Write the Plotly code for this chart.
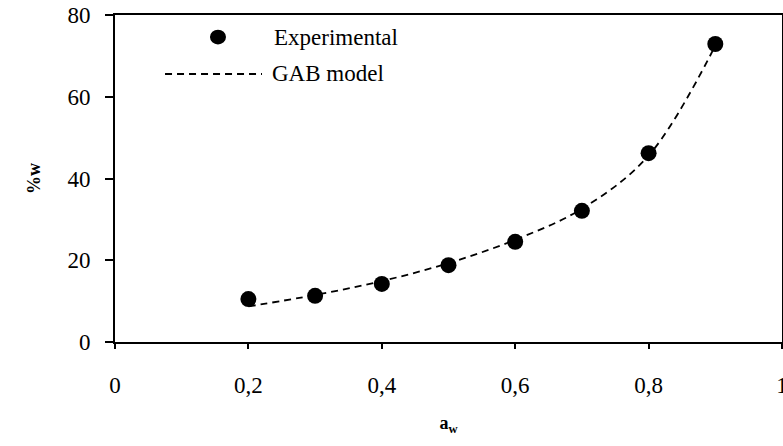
import plotly.graph_objects as go

# Water activity and moisture content
aw = [0.2, 0.3, 0.4, 0.5, 0.6, 0.7, 0.8, 0.9]
w_experimental = [10.5, 11.3, 14.2, 18.8, 24.5, 32.1, 46.2, 72.9]
w_gab = [8.7, 11.5, 14.9, 19.3, 25.0, 32.6, 45.6, 72.5]

x_ticks = [0, 0.2, 0.4, 0.6, 0.8, 1.0]
x_ticktext = ["0", "0,2", "0,4", "0,6", "0,8", "1"]
y_ticks = [0, 20, 40, 60, 80]
y_ticktext = ["0", "20", "40", "60", "80"]

FONT = "Liberation Serif"

fig = go.Figure()

fig.add_trace(go.Scatter(
    x=aw, y=w_gab, mode="lines", line_shape="spline",
    line=dict(color="black", width=1.8, dash="7px,5px"),
    showlegend=False, hoverinfo="skip",
))
fig.add_trace(go.Scatter(
    x=aw, y=w_experimental, mode="markers",
    marker=dict(color="black", size=16, symbol="circle"),
    showlegend=False,
))

# Legend drawn in paper coordinates
fig.add_shape(type="circle", xref="paper", yref="paper",
              x0=0.1424, x1=0.1664, y0=0.910, y1=0.955,
              fillcolor="black", line=dict(color="black", width=0))
fig.add_shape(type="line", xref="paper", yref="paper",
              x0=0.075, x1=0.2204, y0=0.8196, y1=0.8196,
              line=dict(color="black", width=1.8, dash="7px,5px"))
fig.add_annotation(xref="paper", yref="paper", x=0.2354, y=0.932,
                   xanchor="left", yanchor="middle", showarrow=False,
                   text="Experimental",
                   font=dict(family=FONT, size=23, color="black"))
fig.add_annotation(xref="paper", yref="paper", x=0.2324, y=0.822,
                   xanchor="left", yanchor="middle", showarrow=False,
                   text="GAB model",
                   font=dict(family=FONT, size=23, color="black"))

axis_common = dict(
    showline=True, linecolor="black", linewidth=2, mirror=True,
    showgrid=False, zeroline=False, ticks="outside", tickcolor="black",
    tickwidth=1.5, automargin=False,
    tickfont=dict(family=FONT, size=23, color="black"),
)

fig.update_xaxes(
    range=[0, 1], tickvals=x_ticks, ticktext=x_ticktext,
    ticklen=5, ticklabelstandoff=16, ticklabeloverflow="allow",
    title=dict(text="<b>a<sub>w</sub></b>", standoff=20,
               font=dict(family=FONT, size=18, color="black")),
    **axis_common,
)
fig.update_yaxes(
    range=[0, 80], tickvals=y_ticks, ticktext=y_ticktext,
    ticklen=8, ticklabelstandoff=10,
    title=dict(text="<b>%w</b>", standoff=22,
               font=dict(family=FONT, size=18, color="black")),
    **axis_common,
)

fig.update_layout(
    width=783, height=446,
    margin=dict(l=115, r=1, t=15, b=104),
    paper_bgcolor="white", plot_bgcolor="white",
)

fig.write_html("out.html")
